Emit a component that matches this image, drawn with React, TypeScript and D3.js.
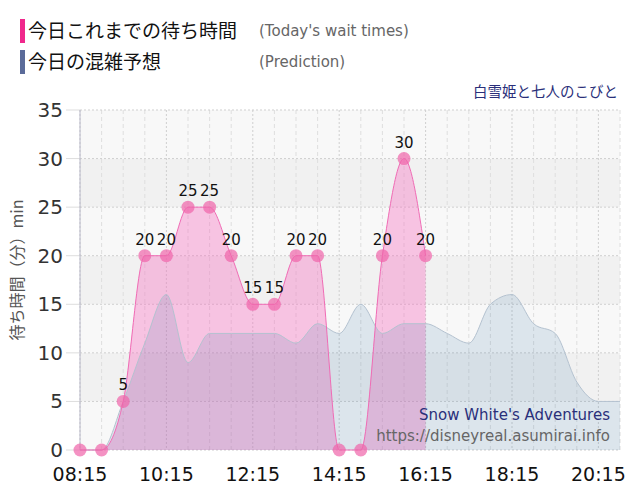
import * as d3 from 'd3';

// actual wait times (every 30 min)
const actualTimes = ['08:15', '08:45', '09:15', '09:45', '10:15', '10:45', '11:15', '11:45', '12:15',
    '12:45', '13:15', '13:45', '14:15', '14:45', '15:15', '15:45', '16:15'];
const actualWaits = [0, 0, 5, 20, 20, 25, 25, 20, 15, 15, 20, 20, 0, 0, 20, 30, 20];

// prediction
const predTimes = ['08:15', '08:45', '09:15', '09:45', '10:15', '10:45', '11:15', '11:45', '12:15',
    '12:45', '13:15', '13:45', '14:15', '14:45', '15:15', '15:45', '16:15', '16:45', '17:15',
    '17:45', '18:15', '18:45', '19:15', '19:45', '20:15', '20:45'];
const predWaits = [0, 0, 5, 11, 16, 9, 12, 12, 12, 12, 11, 13, 12, 15, 12, 13, 13, 12, 11,
    15, 16, 13, 12, 7, 5, 5];

const xTickLabels = ['08:15', '10:15', '12:15', '14:15', '16:15', '18:15', '20:15'];
const yTicks = [0, 5, 10, 15, 20, 25, 30, 35];

const toMin = (s: string) => {
    const [h, m] = s.split(':').map(Number);
    return h * 60 + m;
};

const margin = { top: 110, right: 20, bottom: 50, left: 80 };
const W = 640, H = 500;

export default function App() {
    const x = d3.scaleLinear()
        .domain([toMin('08:15'), toMin('20:45')])
        .range([margin.left, W - margin.right]);
    const y = d3.scaleLinear().domain([0, 35]).range([H - margin.bottom, margin.top]);

    const actual = actualTimes.map((t, i) => ({ t: toMin(t), v: actualWaits[i] }));
    const pred = predTimes.map((t, i) => ({ t: toMin(t), v: predWaits[i] }));

    const area = d3.area<{ t: number; v: number }>()
        .x(d => x(d.t)).y0(y(0)).y1(d => y(d.v))
        .curve(d3.curveMonotoneX);
    const line = d3.line<{ t: number; v: number }>()
        .x(d => x(d.t)).y(d => y(d.v))
        .curve(d3.curveMonotoneX);

    const halfHours = d3.range(toMin('08:15'), toMin('20:45') + 1, 30);
    const bands = d3.range(0, 35, 5);

    const jp = '"Noto Sans CJK JP", sans-serif';
    const num = '"DejaVu Sans", Verdana, sans-serif';

    return (
        <svg width={W} height={H} style={{ position: 'absolute', left: 0, top: 0, background: '#fff' }}>
            {/* legend */}
            <rect x={20} y={19} width={5} height={24} fill="#f0288c" />
            <text x={28} y={38} fontFamily={jp} fontSize={19} fill="#111">今日これまでの待ち時間</text>
            <text x={259} y={36} fontFamily={num} fontSize={15} fill="#666">(Today's wait times)</text>
            <rect x={20} y={50} width={5} height={24} fill="#5b6b99" />
            <text x={28} y={69} fontFamily={jp} fontSize={19} fill="#111">今日の混雑予想</text>
            <text x={259} y={67} fontFamily={num} fontSize={15} fill="#666">(Prediction)</text>

            <text x={618} y={97} textAnchor="end" fontFamily={jp} fontSize={14.5} fill="#2a2f7a">白雪姫と七人のこびと</text>

            {/* plot background bands */}
            {bands.map((b, i) => (
                <rect key={b} x={margin.left} y={y(b + 5)} width={W - margin.right - margin.left}
                    height={y(b) - y(b + 5)} fill={(6 - i) % 2 === 0 ? '#f8f8f8' : '#f1f1f1'} />
            ))}

            {/* vertical grid */}
            {halfHours.map(t => {
                const major = (t - toMin('08:15')) % 120 === 0;
                return (
                    <line key={t} x1={x(t)} x2={x(t)} y1={y(35)} y2={y(0)}
                        stroke={major ? '#cfcfcf' : '#dedede'} strokeWidth={1}
                        strokeDasharray={major ? '2,2' : '4,3'} />
                );
            })}
            {/* horizontal grid */}
            {yTicks.map(v => (
                <g key={v}>
                    <line x1={margin.left} x2={W - margin.right} y1={y(v)} y2={y(v)}
                        stroke="#cfcfcf" strokeDasharray="2,2" />
                    <line x1={66} x2={margin.left} y1={y(v)} y2={y(v)} stroke="#ddd" />
                    <text x={63} y={y(v) + 7} textAnchor="end" fontFamily={num} fontSize={20} fill="#333">{v}</text>
                </g>
            ))}
            <line x1={margin.left} x2={margin.left} y1={y(35)} y2={y(0)} stroke="#b8b8c8" />

            {/* areas */}
            <path d={area(actual) ?? ''} fill="rgba(247,102,188,0.36)" />
            <path d={area(pred) ?? ''} fill="rgba(50,110,165,0.14)" />
            <path d={line(pred) ?? ''} fill="none" stroke="#b4c2d0" strokeWidth={1} />
            <path d={line(actual) ?? ''} fill="none" stroke="#f06cb5" strokeWidth={1} />

            {actual.map((d, i) => (
                <g key={i}>
                    <circle cx={x(d.t)} cy={y(d.v)} r={6.5} fill="rgba(240,100,170,0.7)" />
                    {d.v > 0 && (
                        <text x={x(d.t)} y={y(d.v) - 11} textAnchor="middle" fontFamily={num}
                            fontSize={15} fill="#111">{d.v}</text>
                    )}
                </g>
            ))}

            {/* x axis labels */}
            {xTickLabels.map(l => (
                <text key={l} x={x(toMin(l))} y={481} textAnchor="middle" fontFamily={num}
                    fontSize={19} fill="#111">{l}</text>
            ))}

            {/* y axis title */}
            <text transform="translate(23,270) rotate(-90)" textAnchor="middle" fontFamily={jp}
                fontSize={16} fill="#555">待ち時間（分）min</text>

            {/* watermark */}
            <text x={610} y={420} textAnchor="end" fontFamily={num} fontSize={15} fill="#2a2f7a">Snow White's Adventures</text>
            <text x={610} y={441} textAnchor="end" fontFamily={num} fontSize={15} fill="#666">https://disneyreal.asumirai.info</text>
        </svg>
    );
}
